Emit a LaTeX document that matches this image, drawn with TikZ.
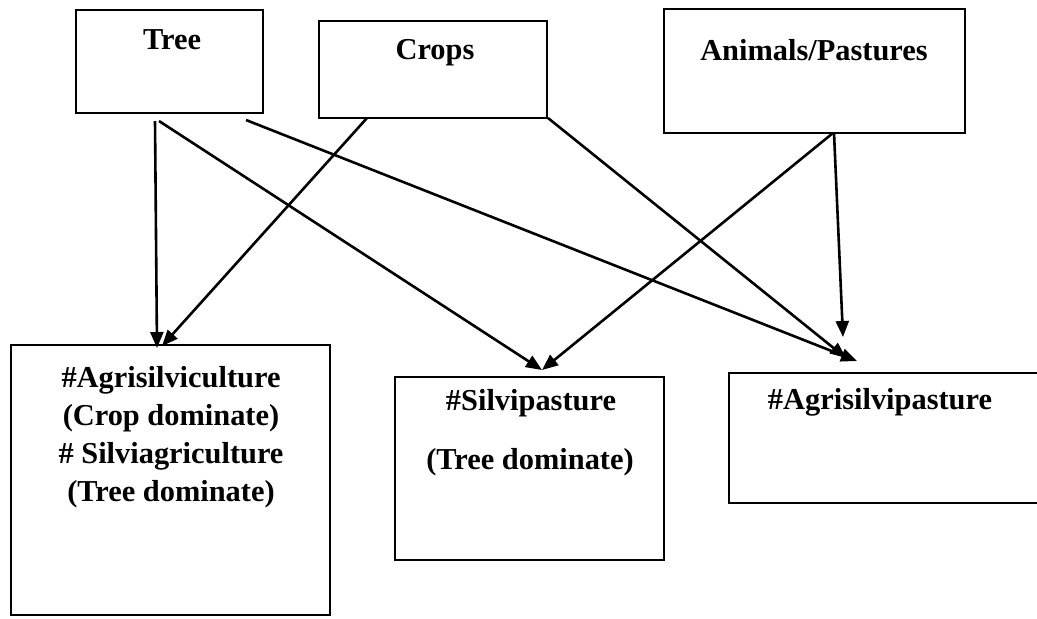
\documentclass[tikz,border=0pt]{standalone}
\usepackage{fontspec}
\setmainfont{Liberation Serif}
\usetikzlibrary{arrows.meta}
\begin{document}
\begin{tikzpicture}[x=0.5pt,y=-0.5pt,
  box/.style={draw,line width=1.4pt},
  lbl/.style={font=\fontsize{15.2}{19}\selectfont\bfseries,align=center,inner sep=0pt},
  arr/.style={line width=1.3pt,-{Triangle[length=8pt,width=6.5pt]}}]
\useasboundingbox (0,0) rectangle (1037,618);
% boxes
\draw[box] (76,10) rectangle (263,113);
\draw[box] (319,21) rectangle (547,118);
\draw[box] (664,9) rectangle (965,133);
\draw[box] (11,345) rectangle (330,615);
\draw[box] (395,377) rectangle (664,560);
\draw[box] (729,373) rectangle (1050,503);
% labels
\node[lbl] (tree) at (172,40) {Tree};
\node[lbl] (crops) at (435,53) {Crops};
\node[lbl] (animals) at (814,50) {Animals/Pastures};
\node[lbl] (agsc) at (171,437) {\#Agrisilviculture\\(Crop dominate)\\\# Silviagriculture\\(Tree dominate)};
\node[lbl] (silvi1) at (531,403) {\#Silvipasture};
\node[lbl] (silvi2) at (530,462) {(Tree dominate)};
\node[lbl] (agsp) at (880,402) {\#Agrisilvipasture};
% connector ends
\coordinate (t1) at (155,121);
\coordinate (t2) at (159,121);
\coordinate (t3) at (246,120);
\coordinate (c1) at (367,118);
\coordinate (c2) at (548,118);
\coordinate (a1) at (833,133);
\coordinate (a2) at (834,133);
\coordinate (e1) at (157,348);
\coordinate (e2) at (162,346);
\coordinate (e3) at (542,370);
\coordinate (e4) at (857,361);
\coordinate (e5) at (846,358);
\coordinate (e6) at (843,337);
% arrows
\draw[arr] (t1) -- (e1);
\draw[arr] (c1) -- (e2);
\draw[arr] (t2) -- (e3);
\draw[arr] (a1) -- (e3);
\draw[arr] (t3) -- (e4);
\draw[arr] (c2) -- (e5);
\draw[arr] (a2) -- (e6);
\end{tikzpicture}
\end{document}
